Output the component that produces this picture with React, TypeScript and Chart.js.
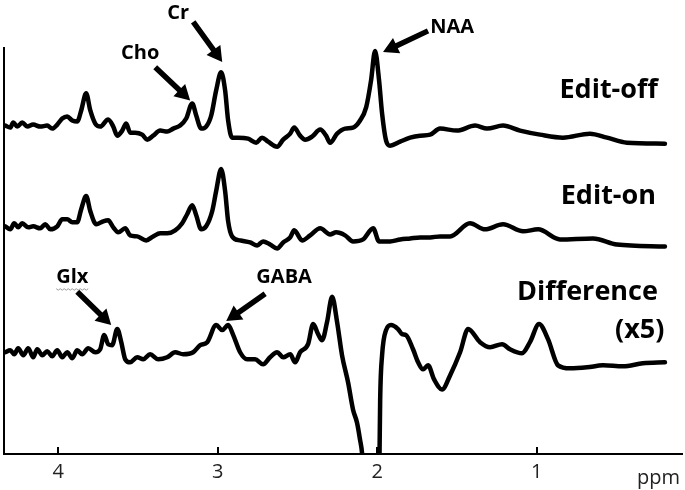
import React, { useEffect, useRef } from "react";
import { Chart, registerables } from "chart.js";

Chart.register(...registerables);

// x-axis (chemical shift, ppm), reversed
const xTicks = [4, 3, 2, 1];
const xUnit = "ppm";
const xMin = 0.09;
const xMax = 4.34;
const yMin = 0;
const yMax = 403;

// Edit-off spectrum
const editOffPpm = [4.332,4.301,4.282,4.257,4.226,4.194,4.157,4.113,4.069,4.038,4.006,3.975,3.944,3.912,3.881,3.856,3.825,3.799,3.768,3.737,3.687,3.655,3.630,3.599,3.574,3.549,3.518,3.474,3.442,3.405,3.361,3.317,3.279,3.236,3.198,3.160,3.135,3.104,3.073,3.041,3.010,2.979,2.954,2.935,2.910,2.872,2.810,2.759,2.722,2.684,2.628,2.590,2.546,2.521,2.484,2.452,2.409,2.358,2.321,2.296,2.252,2.202,2.152,2.108,2.070,2.039,2.014,1.989,1.970,1.945,1.920,1.857,1.794,1.732,1.669,1.607,1.500,1.387,1.312,1.212,1.105,0.980,0.836,0.667,0.560,0.435,0.197];
const editOffVal = [326,324,329,325,329,325,327,325,326,323,327,333,335,331,330,341,358,341,328,325,332,325,316,321,328,319,319,317,312,316,321,320,323,326,333,348,336,323,325,336,361,379,361,331,314,314,313,309,314,310,305,312,318,324,316,312,315,322,316,309,318,323,324,331,344,371,400,371,338,311,306,310,314,316,317,323,321,326,323,326,321,317,314,318,314,309,308];

// Edit-on spectrum
const editOnPpm = [4.332,4.301,4.276,4.251,4.226,4.188,4.157,4.113,4.081,4.050,4.006,3.975,3.944,3.912,3.881,3.856,3.825,3.799,3.762,3.718,3.687,3.655,3.624,3.580,3.549,3.505,3.449,3.405,3.361,3.317,3.267,3.223,3.192,3.160,3.135,3.104,3.073,3.035,3.010,2.979,2.954,2.935,2.910,2.860,2.797,2.753,2.716,2.672,2.628,2.590,2.546,2.521,2.471,2.421,2.358,2.296,2.258,2.202,2.152,2.089,2.026,1.989,1.920,1.857,1.794,1.732,1.669,1.607,1.544,1.419,1.325,1.212,1.086,0.992,0.855,0.648,0.498,0.197];
const editOnVal = [226,223,229,225,229,225,226,224,228,223,226,233,233,230,230,243,256,241,228,231,232,225,220,224,217,216,212,216,219,219,222,229,238,247,237,223,226,241,261,283,261,231,216,212,210,207,211,208,204,210,215,222,212,217,224,218,220,217,211,213,224,211,211,213,214,215,215,216,216,229,223,228,221,223,213,214,208,206];

// Difference spectrum (x5)
const diffPpm = [4.332,4.301,4.276,4.251,4.219,4.188,4.157,4.132,4.100,4.069,4.038,4.006,3.975,3.944,3.912,3.881,3.850,3.812,3.768,3.737,3.712,3.687,3.662,3.630,3.605,3.580,3.549,3.505,3.467,3.424,3.373,3.317,3.267,3.217,3.154,3.110,3.066,3.010,2.972,2.935,2.903,2.860,2.816,2.766,2.716,2.672,2.628,2.590,2.546,2.515,2.484,2.434,2.402,2.371,2.346,2.315,2.283,2.252,2.221,2.183,2.152,2.127,2.108,2.095,2.058,2.014,1.995,1.986,1.982,1.970,1.945,1.914,1.870,1.845,1.820,1.776,1.744,1.713,1.682,1.644,1.594,1.544,1.481,1.431,1.356,1.293,1.218,1.168,1.093,1.043,0.986,0.930,0.867,0.792,0.685,0.585,0.460,0.335,0.197];
const diffVal = [101,103,99,105,98,105,96,104,98,102,97,103,96,101,95,103,99,105,101,104,118,109,108,124,111,94,91,96,94,99,94,96,101,99,101,108,111,128,123,128,118,101,94,94,89,96,101,96,99,91,101,109,129,119,113,131,156,131,98,71,44,31,14,0,-100,-150,-80,0,54,98,123,128,124,119,118,104,91,84,88,74,64,78,101,124,111,106,109,104,100,111,129,114,88,85,86,88,87,90,91];

// Series labels (right-aligned), in data coordinates
const seriesLabelText = ["Edit-off", "Edit-on", "Difference", "(x5)"];
const seriesLabelPpm = [0.241, 0.253, 0.241, 0.200];
const seriesLabelVal = [361, 256, 160, 123];

// Peak annotations: text + arrow (data coordinates)
const peakText = ["Cr", "Cho", "NAA", "Glx", "GABA"];
const peakTextPpm = [3.248, 3.486, 1.531, 3.912, 2.584];
const peakTextVal = [437, 398, 424, 175, 175];
const arrowFromPpm = [3.154, 3.392, 1.682, 3.881, 2.703];
const arrowFromVal = [429, 384, 420, 161, 159];
const arrowToPpm = [2.972, 3.173, 1.964, 3.668, 2.947];
const arrowToVal = [389, 351, 399, 128, 132];

const FONT = "'Open Sans', 'DejaVu Sans', sans-serif";

function drawArrow(ctx: CanvasRenderingContext2D, x0: number, y0: number, x1: number, y1: number) {
  const dx = x1 - x0, dy = y1 - y0;
  const len = Math.hypot(dx, dy);
  const ux = dx / len, uy = dy / len;
  const px = -uy, py = ux;
  const headL = 15, headW = 8.5, shaftW = 5.5;
  const bx = x1 - ux * headL, by = y1 - uy * headL;
  ctx.beginPath();
  ctx.moveTo(x0 + px * shaftW / 2, y0 + py * shaftW / 2);
  ctx.lineTo(bx + px * shaftW / 2, by + py * shaftW / 2);
  ctx.lineTo(bx + px * headW, by + py * headW);
  ctx.lineTo(x1, y1);
  ctx.lineTo(bx - px * headW, by - py * headW);
  ctx.lineTo(bx - px * shaftW / 2, by - py * shaftW / 2);
  ctx.lineTo(x0 - px * shaftW / 2, y0 - py * shaftW / 2);
  ctx.closePath();
  ctx.fill();
}

const annotPlugin = {
  id: "spectrumAnnotations",
  afterDraw(chart: any) {
    const ctx: CanvasRenderingContext2D = chart.ctx;
    const xs = chart.scales.x;
    const ys = chart.scales.y;
    const area = chart.chartArea;
    ctx.save();
    // inward tick marks
    ctx.strokeStyle = "#000";
    ctx.lineWidth = 2;
    for (const t of xTicks) {
      const px = Math.round(xs.getPixelForValue(t));
      ctx.beginPath();
      ctx.moveTo(px, area.bottom);
      ctx.lineTo(px, area.bottom - 7);
      ctx.stroke();
    }
    // arrows
    ctx.fillStyle = "#000";
    for (let i = 0; i < peakText.length; i++) {
      drawArrow(
        ctx,
        xs.getPixelForValue(arrowFromPpm[i]), ys.getPixelForValue(arrowFromVal[i]),
        xs.getPixelForValue(arrowToPpm[i]), ys.getPixelForValue(arrowToVal[i])
      );
    }
    // peak texts
    ctx.font = `bold 20px ${FONT}`;
    ctx.textAlign = "center";
    ctx.textBaseline = "middle";
    for (let i = 0; i < peakText.length; i++) {
      const tx = xs.getPixelForValue(peakTextPpm[i]);
      const ty = ys.getPixelForValue(peakTextVal[i]);
      ctx.fillText(peakText[i], tx, ty);
      if (peakText[i] === "Glx") {
        const w = ctx.measureText(peakText[i]).width;
        ctx.strokeStyle = "#9a9a9a";
        ctx.lineWidth = 1;
        ctx.beginPath();
        for (let k = 0; k <= w; k += 2) {
          const yy = ty + 11 + (k % 4 === 0 ? 0 : 1.5);
          if (k === 0) ctx.moveTo(tx - w / 2 + k, yy);
          else ctx.lineTo(tx - w / 2 + k, yy);
        }
        ctx.stroke();
      }
    }
    // series labels
    ctx.font = `bold 27px ${FONT}`;
    ctx.textAlign = "right";
    for (let i = 0; i < seriesLabelText.length; i++) {
      ctx.fillText(
        seriesLabelText[i],
        xs.getPixelForValue(seriesLabelPpm[i]),
        ys.getPixelForValue(seriesLabelVal[i])
      );
    }
    // axis unit
    ctx.font = `20px ${FONT}`;
    ctx.fillStyle = "#222";
    ctx.textAlign = "right";
    ctx.fillText(xUnit, area.right - 2, area.bottom + 24);
    ctx.restore();
  },
};

function mk(ppm: number[], val: number[]) {
  return ppm.map((p, i) => ({ x: p, y: val[i] }));
}

export default function App() {
  const ref = useRef<HTMLCanvasElement | null>(null);
  useEffect(() => {
    if (!ref.current) return;
    const lineStyle = {
      borderColor: "#000",
      borderWidth: 4.5,
      pointRadius: 0,
      cubicInterpolationMode: "monotone" as const,
      borderJoinStyle: "round" as const,
      borderCapStyle: "round" as const,
      fill: false,
    };
    const chart = new Chart(ref.current, {
      type: "line",
      data: {
        datasets: [
          { label: "Edit-off", data: mk(editOffPpm, editOffVal), ...lineStyle },
          { label: "Edit-on", data: mk(editOnPpm, editOnVal), ...lineStyle },
          { label: "Difference (x5)", data: mk(diffPpm, diffVal), ...lineStyle },
        ],
      },
      options: {
        responsive: false,
        animation: false,
        devicePixelRatio: 1,
        layout: { padding: { top: 48, left: 4, right: 3, bottom: 0 } },
        plugins: { legend: { display: false }, tooltip: { enabled: false } },
        scales: {
          x: {
            type: "linear",
            reverse: true,
            min: xMin,
            max: xMax,
            grid: { display: false, drawTicks: false },
            border: { display: true, color: "#000", width: 2 },
            ticks: {
              stepSize: 1,
              includeBounds: false,
              padding: 6,
              color: "#222",
              font: { family: FONT, size: 20 },
              callback: (v: any) => (xTicks.includes(Number(v)) ? String(v) : ""),
            },
          },
          y: {
            type: "linear",
            min: yMin,
            max: yMax,
            grid: { display: false, drawTicks: false },
            border: { display: true, color: "#000", width: 2 },
            ticks: { display: false },
          },
        },
      },
      plugins: [annotPlugin],
    });
    return () => chart.destroy();
  }, []);
  return (
    <div style={{ position: "fixed", left: 0, top: 0, width: 685, height: 490, background: "#fff" }}>
      <canvas ref={ref} width={685} height={490} style={{ display: "block" }} />
    </div>
  );
}
